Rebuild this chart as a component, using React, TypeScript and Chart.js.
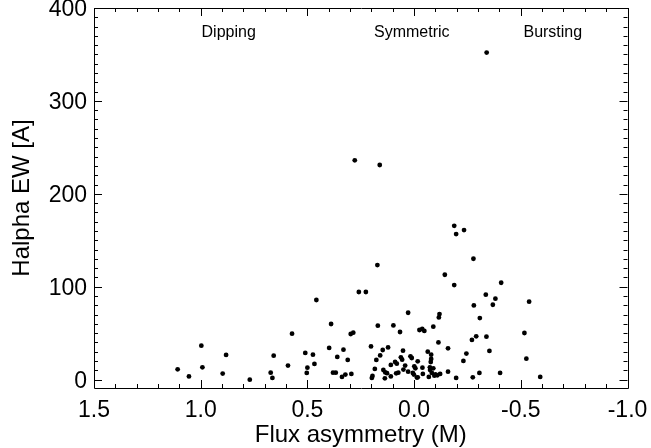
import React, { useEffect, useRef } from "react";
import { Chart, registerables } from "chart.js";

Chart.register(...registerables);

// Flux asymmetry (M) values
const fluxAsym: number[] = [
  1.108, 1.055, 0.997, 0.992, 0.897, 0.881, 0.77, 0.672, 0.664, 0.658,
  0.591, 0.572, 0.51, 0.5, 0.503, 0.474, 0.467, 0.458, 0.398, 0.389,
  0.38, 0.367, 0.36, 0.338, 0.331, 0.322, 0.311, 0.294, 0.297, 0.285,
  0.259, 0.226, 0.172, 0.17, 0.202, 0.198, 0.195, 0.184, 0.177, 0.159,
  0.278, 0.161, -0.34,
  0.147, 0.122, 0.097, 0.066, 0.028, -0.025, -0.038, -0.048, -0.09, -0.119,
  -0.116, -0.114, -0.159, -0.144, -0.188, -0.188, -0.197, -0.234, -0.278, -0.28,
  -0.336, -0.369, -0.381, -0.408, -0.308, -0.291, -0.339, -0.271, -0.539, -0.517,
  -0.353, -0.245, -0.231, -0.526, 0.052, -0.064, -0.08, 0.062, 0.056, 0.017,
  0.011, 0.089, 0.081, -0.017, -0.08, -0.078, 0.109, 0.042, -0.001, -0.006,
  -0.039, -0.074, -0.09, 0.144, 0.135, 0.127, 0.05, 0.074, 0.084, 0.028,
  0.006, 0.001, -0.041, -0.075, -0.083, -0.1, -0.109, -0.122, -0.159, -0.306,
  -0.403, 0.137, 0.109, -0.013, -0.017, -0.069, -0.095, -0.197, -0.275, -0.591,
];

// Halpha EW [A] values
const halphaEW: number[] = [
  11.1, 3.5, 36.6, 13.2, 6.5, 26.6, 0, 7.5, 1.8, 25.8,
  15.1, 49.5, 28.7, 12.9, 7.2, 26.9, 16.9, 85.7, 34.1, 59.9,
  7.5, 7.5, 24.4, 2.9, 32.3, 5.4, 21.2, 6.1, 49.1, 50.5,
  94.3, 94.3, 123.3, 58.1, 35.8, 1.8, 4.0, 11.5, 21.2, 26.1,
  236, 231, 352,
  31.9, 34.7, 58.4, 51.3, 72.0, 53.4, 54.5, 52.4, 57.0, 70.6,
  67.0, 40.1, 33.7, 112.9, 101.8, 165.6, 156.7, 161.0, 130.1, 79.9,
  91.4, 80.6, 87.1, 104.3, 66.3, 46.6, 46.2, 42.7, 83.9, 50.2,
  30.9, 28.0, 20.1, 22.6, 31.2, 30.1, 26.9, 24.0, 21.5, 25.1,
  23.3, 19.0, 17.2, 19.7, 22.3, 19.0, 15.8, 15.1, 14.3, 12.2,
  12.9, 13.2, 12.2, 10.4, 7.8, 7.0, 10.8, 7.5, 6.8, 8.6,
  7.2, 5.4, 6.1, 10.4, 7.2, 5.7, 4.6, 6.1, 8.6, 7.2,
  7.2, 1.4, 3.5, 2.2, 2.5, 2.9, 4.3, 1.8, 2.5, 2.9,
];

const regionLabels: string[] = ["Dipping", "Symmetric", "Bursting"];
const regionLabelX: number[] = [0.869, 0.011, -0.65];
const regionLabelY = 373;

const xMajorTicks: number[] = [1.5, 1.0, 0.5, 0.0, -0.5, -1.0];
const yMajorTicks: number[] = [0, 100, 200, 300, 400];

const FONT = "'Liberation Sans', Arial, Helvetica, sans-serif";

const framePlugin = {
  id: "idlFrame",
  afterDraw(chart: any) {
    const { ctx, chartArea, scales } = chart;
    const { left, right, top, bottom } = chartArea;
    const xs = scales.x;
    const ys = scales.y;
    ctx.save();
    ctx.strokeStyle = "#000";
    ctx.lineWidth = 1;
    ctx.beginPath();
    ctx.rect(Math.round(left) + 0.5, Math.round(top) + 0.5, Math.round(right - left), Math.round(bottom - top));
    ctx.stroke();

    const major = 8;
    const minor = 4;
    ctx.beginPath();
    for (let i = -10; i <= 15; i++) {
      const v = i / 10;
      const px = Math.round(xs.getPixelForValue(v)) + 0.5;
      const len = i % 5 === 0 ? major : minor;
      ctx.moveTo(px, bottom);
      ctx.lineTo(px, bottom - len);
      ctx.moveTo(px, top);
      ctx.lineTo(px, top + len);
    }
    for (let v = 0; v <= 400; v += 10) {
      const py = Math.round(ys.getPixelForValue(v)) + 0.5;
      const len = v % 100 === 0 ? major : minor;
      ctx.moveTo(left, py);
      ctx.lineTo(left + len, py);
      ctx.moveTo(right, py);
      ctx.lineTo(right - len, py);
    }
    ctx.stroke();

    ctx.fillStyle = "#000";
    ctx.font = `16px ${FONT}`;
    ctx.textAlign = "center";
    ctx.textBaseline = "middle";
    regionLabels.forEach((t, i) => {
      ctx.fillText(t, xs.getPixelForValue(regionLabelX[i]), ys.getPixelForValue(regionLabelY));
    });
    ctx.restore();
  },
};

export default function App() {
  const ref = useRef<HTMLCanvasElement>(null);
  useEffect(() => {
    if (!ref.current) return;
    const points = fluxAsym.map((x, i) => ({ x, y: halphaEW[i] }));
    const chart = new Chart(ref.current, {
      type: "scatter",
      data: {
        datasets: [
          {
            data: points,
            backgroundColor: "#000",
            borderColor: "#000",
            borderWidth: 0,
            pointRadius: 2.4,
            pointHoverRadius: 2.4,
          },
        ],
      },
      options: {
        responsive: false,
        animation: false,
        events: [],
        layout: { padding: { top: 8, right: 23.5, left: 0, bottom: 0 } },
        plugins: { legend: { display: false }, tooltip: { enabled: false } },
        scales: {
          x: {
            type: "linear",
            reverse: true,
            min: -1.0,
            max: 1.5,
            border: { display: false },
            grid: { display: false, drawTicks: false },
            afterFit: (s: any) => {
              s.height = 60;
              s.paddingLeft = 0;
              s.paddingRight = 0;
            },
            afterBuildTicks: (s: any) => {
              s.ticks = xMajorTicks.map((v) => ({ value: v }));
            },
            ticks: {
              includeBounds: false,
              autoSkip: false,
              maxRotation: 0,
              padding: 9,
              color: "#000",
              font: { family: FONT, size: 23 },
              callback: (v: any) => Number(v).toFixed(1),
            },
            title: {
              display: true,
              text: "Flux asymmetry (M)",
              color: "#000",
              font: { family: FONT, size: 24 },
              padding: { top: 0, bottom: -2 },
            },
          },
          y: {
            type: "linear",
            min: -9,
            max: 400,
            border: { display: false },
            grid: { display: false, drawTicks: false },
            afterFit: (s: any) => {
              s.width = 94;
              s.paddingTop = 0;
              s.paddingBottom = 0;
            },
            afterBuildTicks: (s: any) => {
              s.ticks = yMajorTicks.map((v) => ({ value: v }));
            },
            ticks: {
              includeBounds: false,
              autoSkip: false,
              padding: 7,
              labelOffset: 2,
              color: "#000",
              font: { family: FONT, size: 23 },
              callback: (v: any) => String(v),
            },
            title: {
              display: true,
              text: "Halpha EW [A]",
              color: "#000",
              font: { family: FONT, size: 24 },
              padding: { top: 8, bottom: 0 },
            },
          },
        },
      },
      plugins: [framePlugin],
    });
    return () => chart.destroy();
  }, []);
  return (
    <div style={{ position: "absolute", left: 0, top: 0, width: 651, height: 448, background: "#fff" }}>
      <canvas ref={ref} width={651} height={448} style={{ width: 651, height: 448, display: "block" }} />
    </div>
  );
}
